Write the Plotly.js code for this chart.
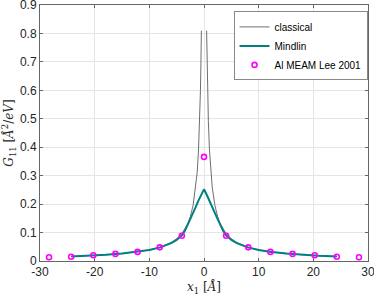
<!DOCTYPE html>
<html>
<head>
<meta charset="utf-8">
<script src="https://cdn.plot.ly/plotly-3.0.1.min.js"></script>
<style>html,body{margin:0;padding:0;background:#fff;}#chart{width:374px;height:296px;}</style>
</head>
<body>
<div id="chart"></div>
<script>
// Classical solution
const classicalXL = [-24.3, -21, -18, -15, -12, -10, -8, -6, -5, -4, -3, -2.5, -2, -1.5, -1.25, -1.0, -0.8, -0.65, -0.55, -0.48];
const classicalYL = [0.016, 0.0186, 0.0217, 0.026, 0.0325, 0.039, 0.049, 0.065, 0.078, 0.0975, 0.13, 0.156, 0.195, 0.26, 0.31, 0.39, 0.49, 0.60, 0.71, 0.81];
const classicalXR = [0.48, 0.55, 0.65, 0.8, 1.0, 1.25, 1.5, 2, 2.5, 3, 4, 5, 6, 8, 10, 12, 15, 18, 21, 24.3];
const classicalYR = [0.81, 0.71, 0.60, 0.49, 0.39, 0.31, 0.26, 0.195, 0.156, 0.13, 0.0975, 0.078, 0.065, 0.049, 0.039, 0.0325, 0.026, 0.0217, 0.0186, 0.016];
// Mindlin solution
const mindlinX = [-24.3, -21, -18, -15, -12, -10, -8, -6, -5, -4, -3.5, -3, -2.5, -2, -1.5, -1, -0.5, 0, 0.5, 1, 1.5, 2, 2.5, 3, 3.5, 4, 5, 6, 8, 10, 12, 15, 18, 21, 24.3];
const mindlinY = [0.016, 0.0186, 0.0217, 0.026, 0.0325, 0.039, 0.048, 0.063, 0.074, 0.091, 0.106, 0.126, 0.147, 0.168, 0.19, 0.213, 0.233, 0.252, 0.233, 0.213, 0.19, 0.168, 0.147, 0.126, 0.106, 0.091, 0.074, 0.063, 0.048, 0.039, 0.0325, 0.026, 0.0217, 0.0186, 0.016];
// Atomistic data (Al MEAM Lee 2001)
const atomX = [-28.35, -24.3, -20.25, -16.2, -12.15, -8.1, -4.05, 0, 4.05, 8.1, 12.15, 16.2, 20.25, 24.3, 28.35];
const atomY = [0.013, 0.015, 0.020, 0.025, 0.032, 0.048, 0.089, 0.366, 0.089, 0.048, 0.032, 0.025, 0.020, 0.015, 0.013];

const xTicks = [-30, -20, -10, 0, 10, 20, 30];

const traces = [
  {x: classicalXL, y: classicalYL, mode: 'lines', name: 'classical', legendgroup: 'c',
   line: {color: '#6e6e6e', width: 1}},
  {x: classicalXR, y: classicalYR, mode: 'lines', name: 'classical', legendgroup: 'c', showlegend: false,
   line: {color: '#6e6e6e', width: 1}},
  {x: mindlinX, y: mindlinY, mode: 'lines', name: 'Mindlin',
   line: {color: '#008080', width: 2}},
  {x: atomX, y: atomY, mode: 'markers', name: 'Al MEAM Lee 2001',
   marker: {symbol: 'circle-open', color: '#ff00ff', size: 5, line: {width: 1.6, color: '#ff00ff'}}}
];

const axisCommon = {
  showline: true, linecolor: '#666', linewidth: 1, mirror: 'ticks',
  ticks: 'inside', ticklen: 3, tickcolor: '#666',
  showgrid: true, gridcolor: '#e5e5e5', gridwidth: 1, zeroline: false,
  ticklabeloverflow: 'allow',
  tickfont: {family: 'Liberation Sans, Arial, sans-serif', size: 12, color: '#262626'}
};

const layout = {
  width: 374, height: 296,
  margin: {l: 40, r: 6, t: 5, b: 35},
  paper_bgcolor: '#fff', plot_bgcolor: '#fff',
  showlegend: true,
  legend: {x: 0.59, y: 0.975, xanchor: 'left', yanchor: 'top',
    bgcolor: '#fff', bordercolor: '#888', borderwidth: 1,
    font: {family: 'Liberation Sans, Arial, sans-serif', size: 10, color: '#000'},
    tracegroupgap: 0, itemwidth: 30},
  xaxis: Object.assign({}, axisCommon, {
    range: [-30, 30], tickvals: xTicks, ticktext: xTicks.map(String),
    title: {text: '<i>x</i><sub>1</sub> [<i>Å</i>]', standoff: 4,
      font: {family: 'DejaVu Serif, Liberation Serif, serif', size: 12, color: '#262626'}}
  }),
  yaxis: Object.assign({}, axisCommon, {
    range: [0, 0.9], dtick: 0.1, tick0: 0,
    title: {text: '<i>G</i><sub>11</sub> [<i>Å</i><sup>2</sup>/<i>eV</i>]', standoff: 6,
      font: {family: 'DejaVu Serif, Liberation Serif, serif', size: 12, color: '#262626'}}
  })
};

Plotly.newPlot('chart', traces, layout, {displayModeBar: false, staticPlot: true});
</script>
</body>
</html>
